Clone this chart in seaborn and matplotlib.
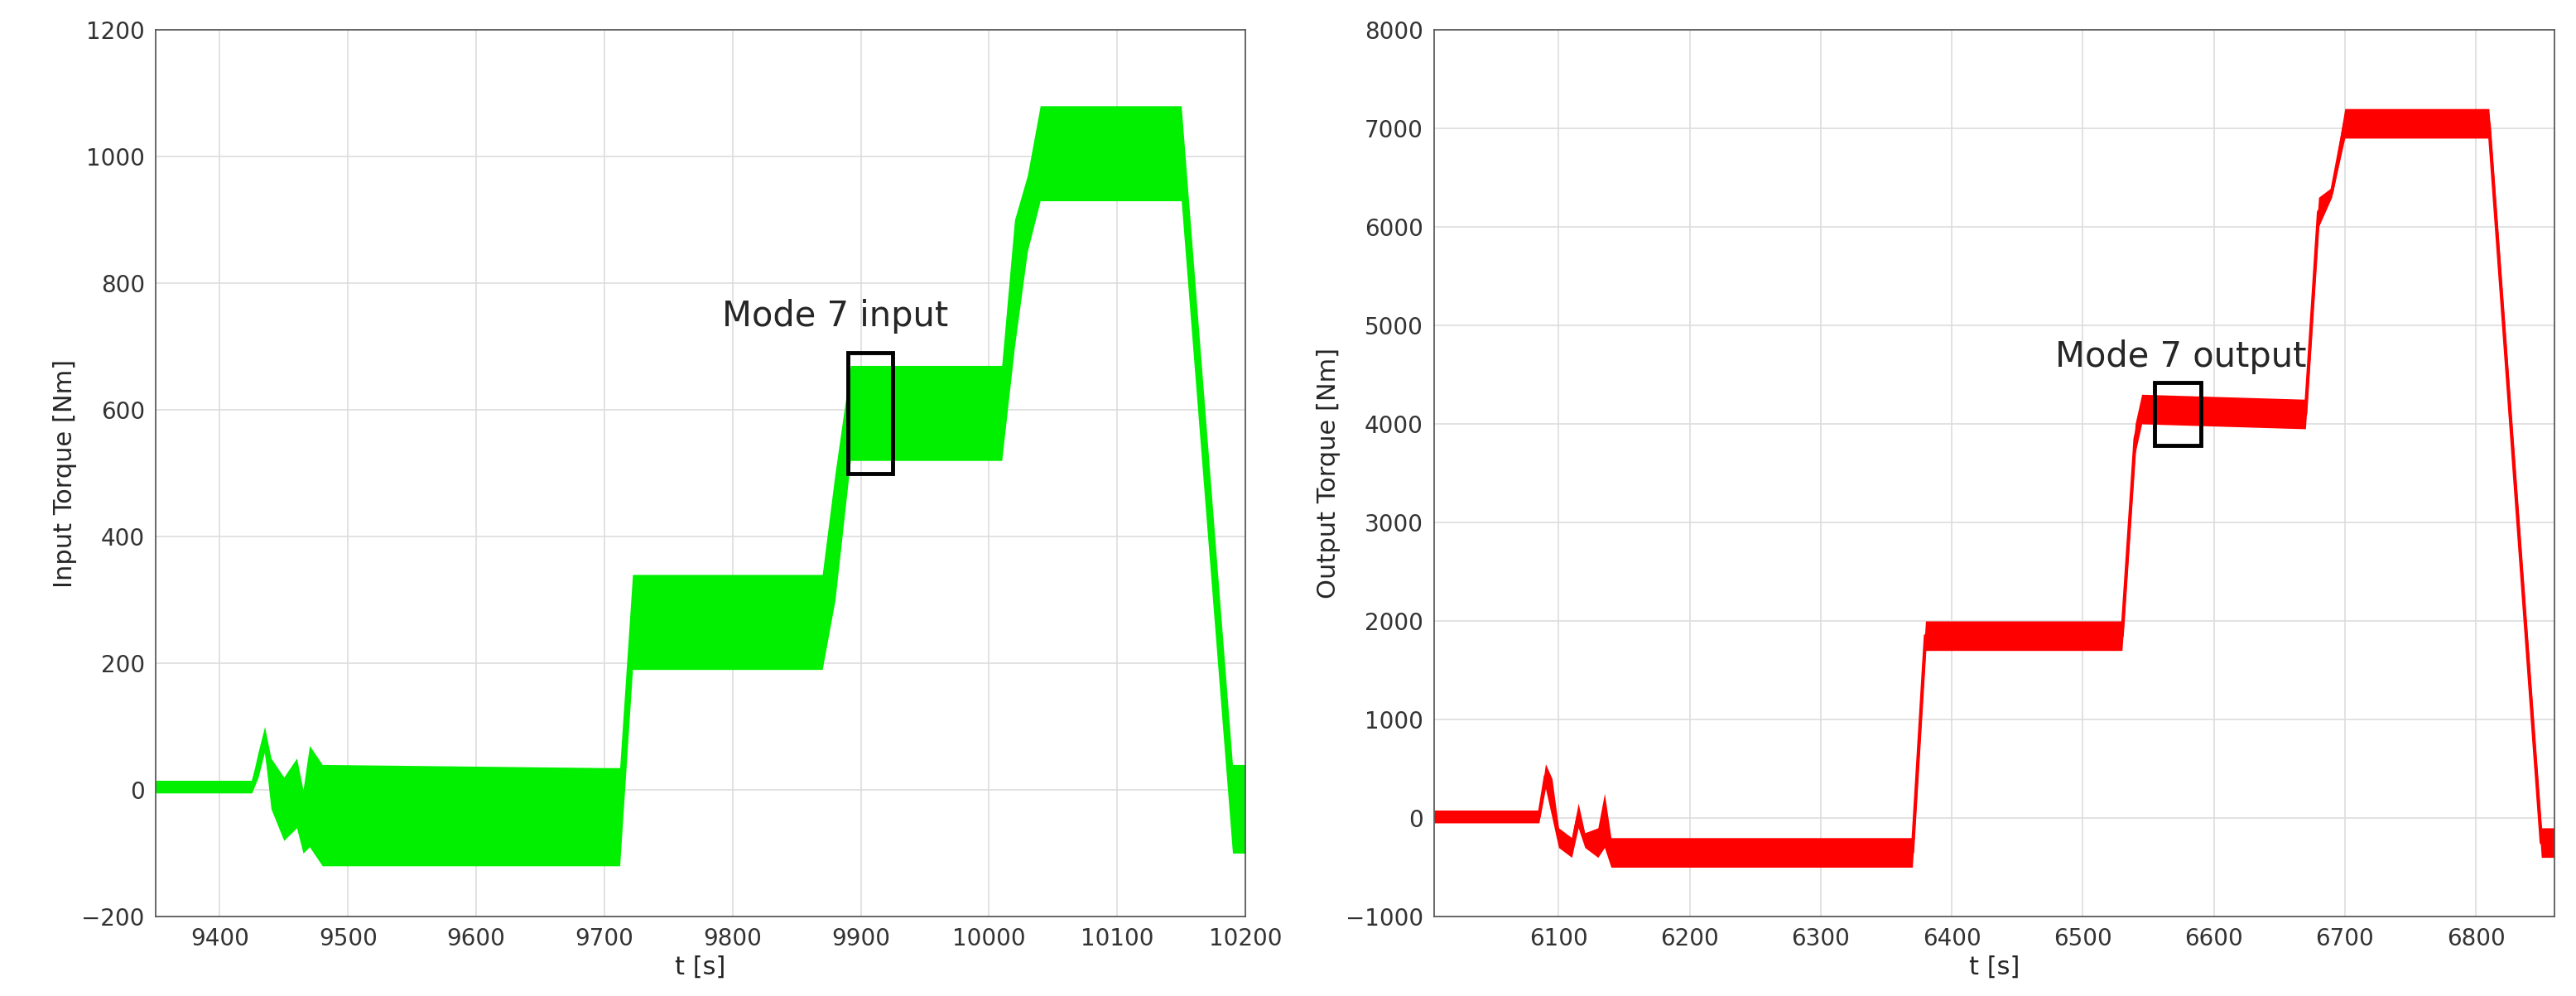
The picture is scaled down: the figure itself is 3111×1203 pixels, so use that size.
import numpy as np
import matplotlib.pyplot as plt
import seaborn as sns
from matplotlib.patches import Rectangle

# input torque envelope
t_in = [9350, 9425, 9430, 9435, 9440, 9450, 9460, 9465, 9470, 9480, 9700, 9712, 9722,
        9870, 9880, 9892, 10010, 10020, 10030, 10040, 10150, 10190, 10200]
lo_in = [-5, -5, 20, 60, -30, -80, -60, -100, -90, -120, -120, -120, 190,
         190, 300, 520, 520, 700, 850, 930, 930, -100, -100]
hi_in = [15, 15, 60, 100, 50, 20, 50, 0, 70, 40, 35, 35, 340,
         340, 500, 670, 670, 900, 970, 1080, 1080, 40, 40]

# output torque envelope
t_out = [6005, 6085, 6090, 6095, 6100, 6110, 6115, 6120, 6130, 6135, 6140, 6370, 6380,
         6530, 6540, 6545, 6670, 6680, 6690, 6700, 6810, 6850, 6860]
lo_out = [-50, -50, 300, 0, -300, -400, -100, -300, -400, -300, -500, -500, 1700,
          1700, 3700, 4000, 3950, 6000, 6300, 6900, 6900, -400, -400]
hi_out = [80, 80, 550, 400, -100, -200, 150, -150, -100, 250, -200, -200, 2000,
          2000, 4000, 4300, 4250, 6300, 6400, 7200, 7200, -100, -100]

box_in = (9890, 500, 35, 190)
box_out = (6555, 3780, 35, 640)

sns.set_theme(style="whitegrid")
plt.rcParams['font.family'] = ['DejaVu Sans']
plt.rcParams['axes.edgecolor'] = '#444444'

fig = plt.figure(figsize=(31.11, 12.03), dpi=100)
ax1 = fig.add_axes([188/3111, 1 - 1107/1203, (1504-188)/3111, (1107-36)/1203])
ax2 = fig.add_axes([1732/3111, 1 - 1107/1203, (3085-1732)/3111, (1107-36)/1203])

def panel(ax, t, lo, hi, color, xlim, ylim, yt, xt, ylabel, box, label, ltxt):
    ax.fill_between(t, lo, hi, color=color, lw=0)
    mid = (np.array(lo) + np.array(hi)) / 2
    sns.lineplot(x=t, y=mid, ax=ax, color=color, lw=3)
    ax.set_xlim(*xlim)
    ax.set_ylim(*ylim)
    ax.set_yticks(yt)
    ax.set_xticks(xt)
    ax.tick_params(labelsize=20, colors='#333333')
    ax.set_xlabel('t [s]', fontsize=22)
    ax.set_ylabel(ylabel, fontsize=22)
    ax.grid(True, color='#dddddd', lw=1.2)
    for s in ax.spines.values():
        s.set_visible(True)
        s.set_color('#555555')
    ax.add_patch(Rectangle(box[:2], box[2], box[3], fill=False, ec='black', lw=3.5, zorder=5))
    ax.text(ltxt[0], ltxt[1], label, fontsize=30, ha='center', va='bottom')

panel(ax1, t_in, lo_in, hi_in, '#00f000', (9350, 10200), (-200, 1200),
      range(-200, 1201, 200), range(9400, 10201, 100), 'Input Torque [Nm]',
      box_in, 'Mode 7 input', (9880, 720))
panel(ax2, t_out, lo_out, hi_out, '#ff0000', (6005, 6860), (-1000, 8000),
      range(-1000, 8001, 1000), range(6100, 6801, 100), 'Output Torque [Nm]',
      box_out, 'Mode 7 output', (6575, 4500))
ax1.set_yticklabels(['\u2212200'] + [str(v) for v in range(0, 1201, 200)])
ax2.set_yticklabels(['\u22121000'] + [str(v) for v in range(0, 8001, 1000)])

fig.savefig('out.png', dpi=100)
